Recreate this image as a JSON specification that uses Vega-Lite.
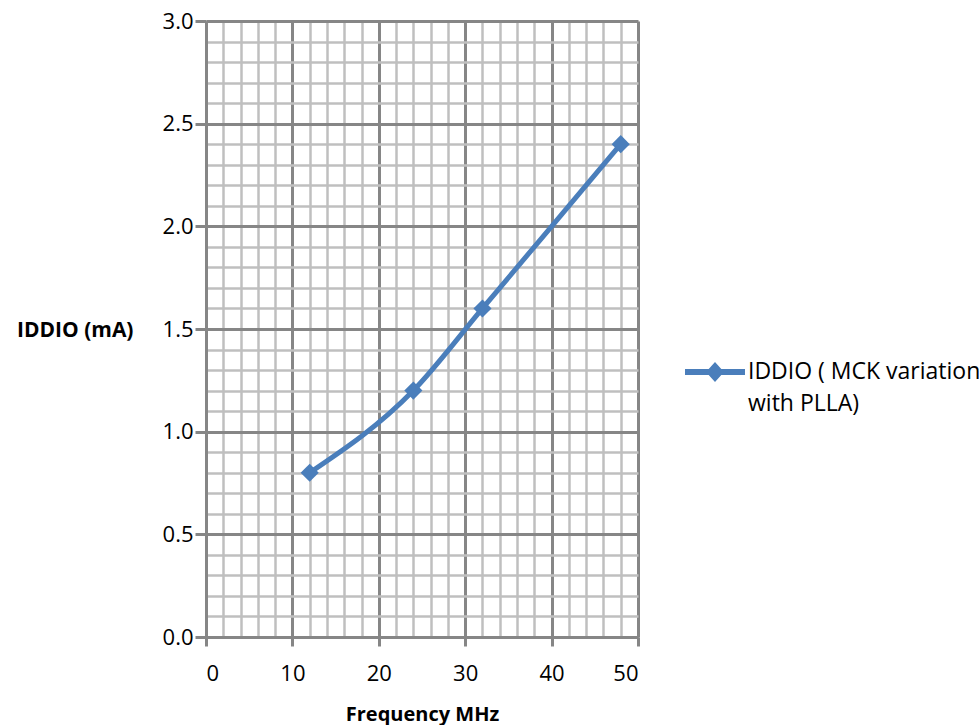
{
  "$schema": "https://vega.github.io/schema/vega-lite/v6.json",
  "width": 432,
  "height": 616,
  "autosize": {"type": "none"},
  "padding": {"left": 206, "top": 21, "right": 342, "bottom": 88},
  "background": "white",
  "config": {
    "view": {"stroke": null},
    "font": "Open Sans",
    "axis": {"labelFont": "Open Sans", "titleFont": "Open Sans", "labelFontSize": 22, "labelColor": "#000000", "titleColor": "#000000"},
    "legend": {"labelFont": "Open Sans"}
  },
  "data": {
    "values": [
      {"freq": 12, "iddio": 0.8, "series": "IDDIO ( MCK variation with PLLA)"},
      {"freq": 24, "iddio": 1.2, "series": "IDDIO ( MCK variation with PLLA)"},
      {"freq": 32, "iddio": 1.6, "series": "IDDIO ( MCK variation with PLLA)"},
      {"freq": 48, "iddio": 2.4, "series": "IDDIO ( MCK variation with PLLA)"}
    ]
  },
  "resolve": {"axis": {"x": "independent", "y": "independent"}},
  "layer": [
    {
      "mark": {"type": "point", "opacity": 0},
      "encoding": {
        "x": {"field": "freq", "type": "quantitative", "scale": {"domain": [0, 50], "nice": false},
          "axis": {"orient": "bottom", "values": [2,4,6,8,12,14,16,18,22,24,26,28,32,34,36,38,42,44,46,48], "labels": false, "ticks": false, "domain": false, "title": null, "grid": true, "gridColor": "#bfbfbf", "gridWidth": 2.5}},
        "y": {"field": "iddio", "type": "quantitative", "scale": {"domain": [0, 3], "nice": false},
          "axis": {"orient": "left", "values": [0.1,0.2,0.3,0.4,0.6,0.7,0.8,0.9,1.1,1.2,1.3,1.4,1.6,1.7,1.8,1.9,2.1,2.2,2.3,2.4,2.6,2.7,2.8,2.9], "labels": false, "ticks": false, "domain": false, "title": null, "grid": true, "gridColor": "#bfbfbf", "gridWidth": 2.5}}
      }
    },
    {
      "mark": {"type": "line", "interpolate": "monotone", "strokeWidth": 5, "color": "#4a7ebb"},
      "encoding": {
        "x": {"field": "freq", "type": "quantitative", "scale": {"domain": [0, 50], "nice": false},
          "axis": {"orient": "bottom", "values": [0,10,20,30,40,50], "grid": true, "gridColor": "#868686", "gridWidth": 3, "domain": true, "domainColor": "#868686", "domainWidth": 3, "tickColor": "#868686", "tickWidth": 3, "tickSize": 9, "labelPadding": 17, "title": "Frequency MHz", "titleFontSize": 20, "titleFontWeight": "bold", "titleBaseline": "alphabetic", "titleY": 83}},
        "y": {"field": "iddio", "type": "quantitative", "scale": {"domain": [0, 3], "nice": false},
          "axis": {"orient": "left", "values": [0,0.5,1,1.5,2,2.5,3], "format": ".1f", "grid": true, "gridColor": "#868686", "gridWidth": 3, "domain": true, "domainColor": "#868686", "domainWidth": 3, "tickColor": "#868686", "tickWidth": 3, "tickSize": 11, "labelPadding": 2, "title": "IDDIO (mA)", "titleFontSize": 21, "titleFontWeight": "bold", "titleAngle": 0, "titleAlign": "right", "titleBaseline": "middle", "titleX": -73, "titleY": 309}}
      }
    },
    {
      "mark": {"type": "point", "shape": "diamond", "filled": true, "size": 330, "opacity": 1},
      "encoding": {
        "x": {"field": "freq", "type": "quantitative", "axis": null},
        "y": {"field": "iddio", "type": "quantitative", "axis": null},
        "color": {"field": "series", "type": "nominal", "scale": {"range": ["#4a7ebb"]},
          "legend": {"orient": "none", "legendX": 494, "legendY": 336, "title": null,
            "symbolType": "M-2,-0.2H2V0.2H-2Z M0,-0.667L0.6,0L0,0.667L-0.6,0Z",
            "symbolSize": 900, "symbolStrokeWidth": 0, "symbolOpacity": 1,
            "labelFontSize": 23, "labelColor": "#000000", "labelOffset": 18, "labelLimit": 400,
            "labelExpr": "['IDDIO ( MCK variation', 'with PLLA)']", "labelBaseline": "middle",
            "encode": {"labels": {"update": {"lineHeight": {"value": 32}}}}}}
      }
    }
  ]
}
